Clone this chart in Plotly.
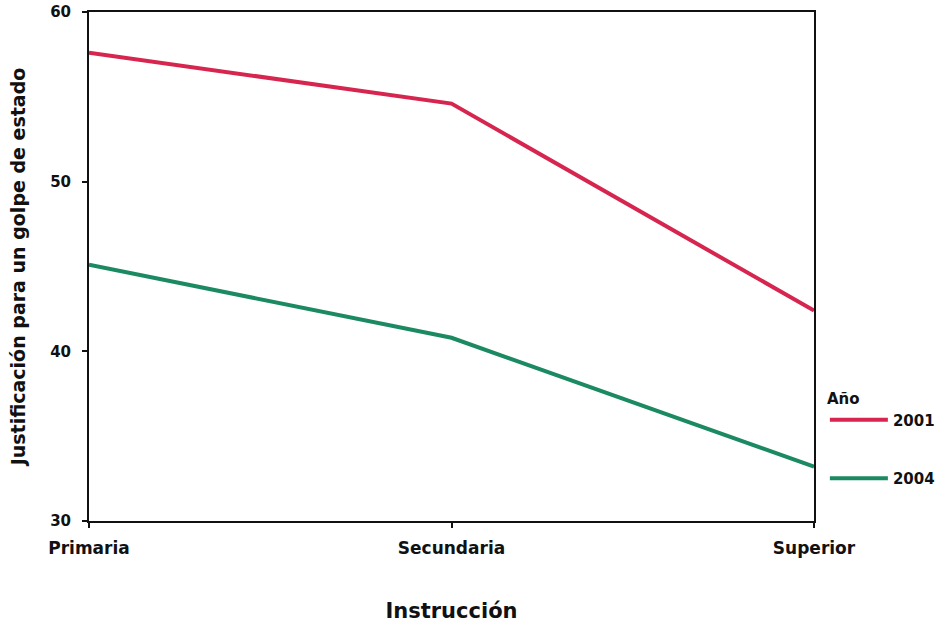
import plotly.graph_objects as go

categorias = ["Primaria", "Secundaria", "Superior"]
serie_2001 = [57.6, 54.6, 42.4]
serie_2004 = [45.1, 40.8, 33.2]
y_ticks = [30, 40, 50, 60]

FONT = "DejaVu Sans"
BLACK = "#111111"

fig = go.Figure()
fig.add_trace(go.Scatter(x=categorias, y=serie_2001, mode="lines", name="2001",
                         legendgroup="a", line=dict(color="#d6264f", width=4)))
fig.add_trace(go.Scatter(x=categorias, y=serie_2004, mode="lines", name="2004",
                         legendgroup="b", line=dict(color="#1b8a62", width=4)))

fig.update_layout(
    width=945, height=625,
    margin=dict(l=89, r=131, t=12, b=104, autoexpand=False),
    paper_bgcolor="white", plot_bgcolor="white",
    font=dict(family=FONT, size=14, color=BLACK),
    showlegend=True,
    legend=dict(
        title=dict(text="<b>Año</b>", side="top", font=dict(family=FONT, size=15, color=BLACK)),
        font=dict(family=FONT, size=15, color=BLACK, weight="bold"),
        x=1.015, xanchor="left", y=0.16, yanchor="middle",
        tracegroupgap=36, itemwidth=58, bgcolor="rgba(0,0,0,0)",
    ),
)
fig.update_xaxes(
    type="category", range=[0, 2], automargin=False,
    showline=True, linecolor=BLACK, linewidth=2, mirror=True,
    ticks="outside", ticklen=5, tickwidth=1.5, tickcolor=BLACK,
    showgrid=False, zeroline=False, ticklabeloverflow="allow",
    tickfont=dict(family=FONT, size=17, color=BLACK, weight="bold"),
    ticklabelstandoff=6,
    title=dict(text="Instrucción", font=dict(family=FONT, size=21, color=BLACK, weight="bold"), standoff=46),
)
fig.update_yaxes(
    range=[30, 60], tickvals=y_ticks, automargin=False,
    showline=True, linecolor=BLACK, linewidth=2, mirror=True,
    ticks="outside", ticklen=5, tickwidth=1.5, tickcolor=BLACK,
    showgrid=False, zeroline=False, ticklabeloverflow="allow",
    tickfont=dict(family=FONT, size=15, color=BLACK, weight="bold"),
    ticklabelstandoff=8,
    title=dict(text="Justificación para un golpe de estado", font=dict(family=FONT, size=19, color=BLACK, weight="bold"), standoff=19),
)

fig.write_html("out.html", config={"displayModeBar": False},
               post_script="document.body.style.margin='0';")
